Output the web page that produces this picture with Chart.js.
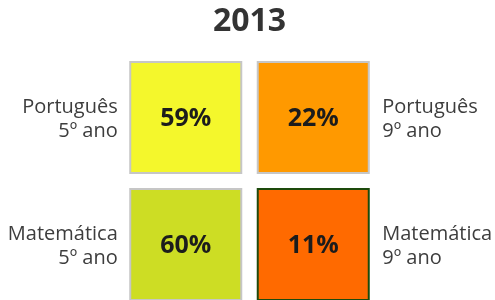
<!DOCTYPE html>
<html>
<head>
<meta charset="utf-8">
<script src="https://cdn.jsdelivr.net/npm/chart.js@4/dist/chart.umd.min.js"></script>
<style>
  html, body { margin: 0; padding: 0; background: #fff; overflow: hidden; }
  /* o quadro passa um pouco da janela: os quadrados de baixo saem cortados, como no original */
  #wrap { width: 495px; height: 308px; }
</style>
</head>
<body>
<div id="wrap"><canvas id="grid"></canvas></div>
<script>
// Dados
const rows = ["Português", "Matemática"];
const cols = ["5º ano", "9º ano"];
const subjects = ["Português", "Português", "Matemática", "Matemática"];
const grades = ["5º ano", "9º ano", "5º ano", "9º ano"];
const values = [59, 22, 60, 11];

const fills = ["#f4f72c", "#ff9900", "#cddd24", "#ff6a00"];
const borders = ["#c6c6c6", "#c6c6c6", "#c6c6c6", "#1d4a0c"];

// Textos: valor no centro e rótulo ao lado de cada quadrado
const cellText = {
  id: "cellText",
  afterDatasetsDraw(chart) {
    const { ctx } = chart;
    const meta = chart.getDatasetMeta(0);
    ctx.save();
    meta.data.forEach((pt, i) => {
      ctx.fillStyle = "#1c1c1c";
      ctx.font = "bold 25px 'Open Sans'";
      ctx.textAlign = "center";
      ctx.textBaseline = "middle";
      ctx.fillText(values[i] + "%", pt.x, pt.y + 1);

      const left = cols.indexOf(grades[i]) === 0;
      ctx.fillStyle = "#3d3d3d";
      ctx.font = "20px 'Open Sans'";
      ctx.textAlign = left ? "right" : "left";
      ctx.textBaseline = "alphabetic";
      const tx = left ? pt.x - 68 : pt.x + 69;
      ctx.fillText(subjects[i], tx, pt.y - 5);
      ctx.fillText(grades[i], tx, pt.y + 19.5);
    });
    ctx.restore();
  }
};

new Chart(document.getElementById("grid"), {
  type: "scatter",
  data: {
    datasets: [{
      data: values.map((v, i) => ({ x: grades[i], y: subjects[i] })),
      pointStyle: "rect",
      pointRadius: 78.5,
      pointBorderWidth: 2,
      backgroundColor: fills,
      borderColor: borders,
      clip: false
    }]
  },
  options: {
    responsive: true,
    maintainAspectRatio: false,
    animation: false,
    events: [],
    layout: { autoPadding: false, padding: { left: 122, right: 118, top: 0, bottom: 0 } },
    plugins: {
      legend: { display: false },
      tooltip: { enabled: false },
      title: {
        display: true,
        text: "2013",
        color: "#333",
        font: { family: "'Open Sans'", size: 32, weight: "bold", lineHeight: 1.2 },
        padding: { top: 3, bottom: 12.6 }
      }
    },
    scales: {
      x: { type: "category", labels: cols, offset: true, display: false },
      y: { type: "category", labels: rows, offset: true, display: false }
    }
  },
  plugins: [cellText]
});
</script>
</body>
</html>
